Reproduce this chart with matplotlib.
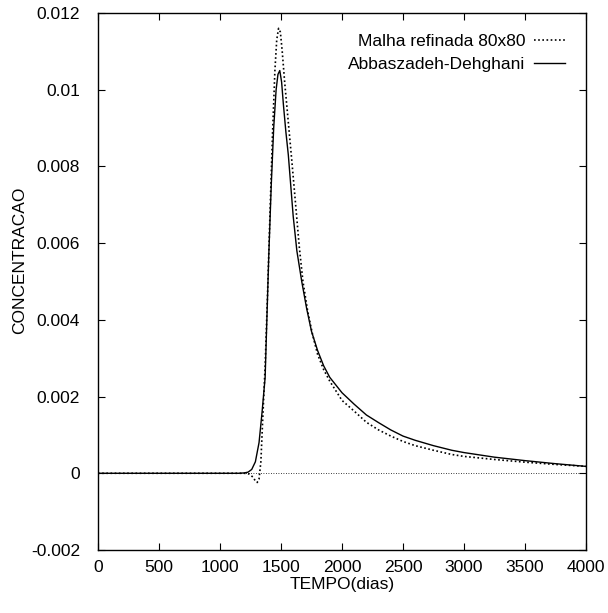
import matplotlib
matplotlib.use("Agg")
import matplotlib.pyplot as plt
from matplotlib.ticker import FuncFormatter

plt.rcParams['font.family'] = ['Liberation Sans Narrow', 'Liberation Sans', 'DejaVu Sans']
plt.rcParams['axes.unicode_minus'] = False

# Malha refinada 80x80 (dotted)
t_malha = [0, 500, 1000, 1150, 1200, 1240, 1270, 1290, 1305, 1320, 1335, 1350, 1370, 1390,
           1410, 1430, 1450, 1465, 1480, 1495, 1510, 1530, 1550, 1570, 1590, 1620, 1650,
           1680, 1720, 1760, 1800, 1850, 1900, 1950, 2000, 2100, 2200, 2300, 2400, 2500,
           2600, 2750, 2900, 3000, 3250, 3500, 3750, 4000]
c_malha = [0, 0, 0, 0, 0, -0.00002, -0.0001, -0.0002, -0.00024, -0.00015, 0.0003, 0.0014,
           0.0028, 0.0047, 0.0068, 0.0088, 0.0105, 0.0113, 0.0116, 0.0115, 0.0110, 0.0102,
           0.0095, 0.0088, 0.0081, 0.0070, 0.0059, 0.0050, 0.0042, 0.0036, 0.0031, 0.0027,
           0.0024, 0.00215, 0.0019, 0.00162, 0.00133, 0.00113, 0.00097, 0.00083, 0.00072,
           0.0006, 0.00049, 0.00044, 0.00036, 0.00029, 0.00023, 0.00018]

# Abbaszadeh-Dehghani (solid)
t_abb = [0, 500, 1000, 1150, 1200, 1230, 1260, 1290, 1320, 1345, 1370, 1400, 1420, 1440,
         1460, 1475, 1490, 1505, 1520, 1540, 1560, 1580, 1600, 1630, 1670, 1710, 1750, 1800,
         1850, 1900, 1950, 2000, 2100, 2200, 2300, 2400, 2500, 2600, 2750, 2900, 3000, 3250,
         3500, 3750, 4000]
c_abb = [0, 0, 0, 0, 0.00001, 0.00003, 0.0001, 0.0003, 0.0008, 0.0016, 0.0025, 0.0057,
         0.0075, 0.0090, 0.0100, 0.0104, 0.0105, 0.0102, 0.0096, 0.0089, 0.0083, 0.0075,
         0.0067, 0.0058, 0.0050, 0.0043, 0.0037, 0.0032, 0.0028, 0.0025, 0.0023, 0.0021,
         0.0018, 0.00152, 0.00132, 0.00113, 0.00097, 0.00086, 0.00072, 0.0006, 0.00054,
         0.00042, 0.00033, 0.00025, 0.00018]

fig = plt.figure(figsize=(6.08, 6.13), dpi=100)
ax = fig.add_axes([98/608, 1 - 550/613, 488/608, 537/613])

ax.axhline(0, color='black', lw=0.6, ls=(0, (1, 2)))
ax.plot(t_malha, c_malha, color='black', lw=1.2, ls=(0, (1, 1.5)), label='Malha refinada 80x80')
ax.plot(t_abb, c_abb, color='black', lw=1.0, label='Abbaszadeh-Dehghani')

ax.set_xlim(0, 4000)
ax.set_ylim(-0.002, 0.012)
ax.set_xticks(range(0, 4001, 500))
ax.set_yticks([-0.002, 0, 0.002, 0.004, 0.006, 0.008, 0.01, 0.012])
ax.yaxis.set_major_formatter(FuncFormatter(lambda v, p: '%g' % round(v, 6)))
ax.tick_params(direction='in', top=True, right=True, length=5, labelsize=12.5)
ax.tick_params(axis='x', pad=7)
ax.tick_params(axis='y', pad=13)
for s in ax.spines.values():
    s.set_linewidth(1.0)

ax.set_xlabel('TEMPO(dias)', fontsize=12.5, labelpad=2)
ax.set_ylabel('CONCENTRACAO', fontsize=12.5)
ax.yaxis.set_label_coords(-0.145, 0.54)

ax.legend(loc='upper right', frameon=False, markerfirst=False, fontsize=12.5,
          handlelength=1.8, handletextpad=0.5, labelspacing=0.45,
          borderaxespad=0.6, borderpad=0.6)

plt.savefig('out.png', dpi=100)
